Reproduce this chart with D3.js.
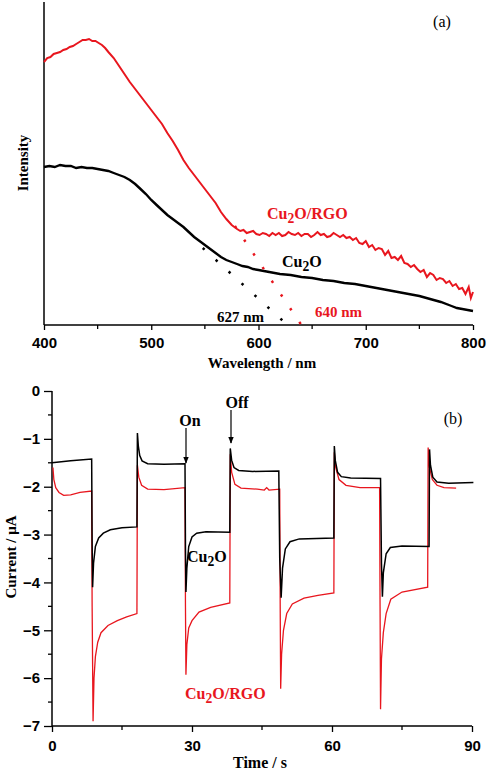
<!DOCTYPE html>
<html><head><meta charset="utf-8">
<script src="https://cdn.jsdelivr.net/npm/d3@7"></script>
<style>
body{margin:0;background:#fff;}
svg{display:block;}
.tick text{font-family:"Liberation Sans",Arial,sans-serif;font-weight:bold;font-size:15px;fill:#000;}
.lab{font-family:"Liberation Serif","Times New Roman",serif;font-weight:bold;}
</style></head>
<body>
<script>
// ---------- Panel (a): spectra ----------
const wlTicks = [400, 500, 600, 700, 800];
// wavelength (nm), intensity (a.u.)
const redWl = [400,403,406,409,412,415,418,421,424,427,430,433,436,439,442,445,448,451,454,457,460,465,470,475,480,485,490,495,500,505,510,515,520,525,530,535,540,545,550,555,560,565,570,575,
  580,583,586,589,592,595,598,601,604,607,610,613,616,619,622,625,628,631,634,637,640,643,646,649,652,655,658,661,664,667,670,673,676,679,682,685,
  688,691,694,697,700,703,706,709,712,715,718,721,724,727,730,733,736,739,742,745,748,751,754,757,760,763,766,769,772,775,778,781,784,787,790,793,796,798,800];
const redI = [263,267,268,271,272,273,275,276,278,279,281,283,285,285,286,284,284,282,280,277,273,267,259,251,243,236,229,222,215,208,201,192,184,175,165,157,150,143,136,129,122,113,106,100,
  96,94,95,92,93,94,91,90,92,91,89,92,90,92,89,90,93,91,90,92,89,91,91,88,90,93,90,91,88,89,92,90,88,90,87,88,
  85,87,82,81,84,78,80,75,77,76,70,74,67,68,65,69,62,61,58,60,56,53,55,48,52,50,45,47,46,42,44,39,41,36,37,31,38,27,33];
const blackWl = [400,405,410,415,420,425,430,435,440,445,450,455,460,465,470,475,480,485,490,495,500,505,510,515,520,525,530,535,540,545,550,555,560,565,570,575,580,585,590,595,600,610,620,630,640,650,660,670,680,690,700,710,720,730,740,750,760,770,780,785,790,795,800];
const blackI = [158,159,158,160,159,159,157,158,157,157,156,155,154,152,150,148,145,141,136,131,125,120,115,110,106,102,98,93,88,84,80,76,72,68,65,63,61,59,58,56,55,53,51,50,48,47,45,44,42,41,39,37,35,33,31,29,26,23,19,17,16,15,14];
// tangent (onset) lines: [wavelength, intensity]
const tanBlack = [[548, 77], [627, 0]];
const tanRed = [[578, 99], [640, 0]];

// ---------- Panel (b): photocurrent response ----------
const timeTicks = [0, 30, 60, 90];
const currentTicks = [0, -1, -2, -3, -4, -5, -6, -7];
const blackT = [0,4,8.5,8.6,8.7,8.9,9.3,10,11,12.5,15,18.2,18.3,18.5,18.8,19.3,20.5,24,28.5,28.6,28.7,28.9,29.3,30,31,33,38.1,38.2,38.5,39,40,43,48.6,48.8,49.1,49.4,50,51,53,60.4,60.5,60.7,61.2,62,64,70.4,70.6,70.8,71,71.6,72.5,75,80.8,80.9,81.1,81.6,82.5,85,90.3];
const blackC = [-1.50,-1.46,-1.42,-3.2,-4.10,-3.6,-3.25,-3.07,-2.97,-2.90,-2.86,-2.84,-0.88,-1.15,-1.35,-1.46,-1.52,-1.53,-1.52,-3.3,-4.20,-3.7,-3.25,-3.05,-2.97,-2.94,-2.95,-1.20,-1.45,-1.60,-1.66,-1.68,-1.67,-3.5,-4.32,-3.7,-3.30,-3.15,-3.09,-3.07,-1.15,-1.45,-1.70,-1.79,-1.82,-1.83,-3.6,-4.30,-3.8,-3.4,-3.27,-3.24,-3.25,-1.22,-1.55,-1.80,-1.90,-1.93,-1.91];
const redT = [0.2,0.4,0.8,1.5,2.5,4,6,8.5,8.6,8.8,9.0,9.3,9.8,10.5,12,14,16,18.2,18.3,18.6,19.2,20.5,24,28.5,28.6,28.7,28.9,29.3,30,31.5,34,38.1,38.2,38.5,39.2,40.5,44,45.5,46,46.5,48.8,48.9,49.0,49.2,49.6,50.3,51.5,54,57,60.4,60.5,60.8,61.5,63,66,70.2,70.3,70.4,70.6,71.0,71.6,72.6,75,80.5,80.6,80.9,81.5,82.5,84,86.6];
const redC = [-1.60,-1.85,-2.02,-2.12,-2.18,-2.17,-2.12,-2.09,-4.5,-6.90,-6.0,-5.55,-5.25,-5.05,-4.90,-4.80,-4.72,-4.65,-1.55,-1.80,-1.97,-2.05,-2.06,-2.02,-4.5,-5.93,-5.3,-4.95,-4.80,-4.62,-4.52,-4.43,-1.32,-1.70,-1.95,-2.03,-2.05,-2.07,-2.02,-2.07,-2.05,-4.5,-6.22,-5.5,-5.0,-4.65,-4.45,-4.33,-4.27,-4.22,-1.28,-1.60,-1.85,-1.97,-2.02,-2.02,-4.5,-6.65,-5.6,-5.05,-4.65,-4.35,-4.20,-4.10,-1.18,-1.60,-1.85,-1.97,-2.02,-2.03];

const RED = "#e8161e";
const W = 488, H = 773;
const svg = d3.select("body").append("svg").attr("width", W).attr("height", H);

// ===== Panel (a) =====
const xa = d3.scaleLinear().domain([400, 800]).range([44, 473]);
const ya = d3.scaleLinear().domain([0, 320]).range([325, 5]);
const ga = svg.append("g");
const xAxisA = d3.axisBottom(xa).tickValues(wlTicks).tickSize(5).tickPadding(5).tickFormat(d3.format("d"));
const gxa = ga.append("g").attr("transform", "translate(0,325)").call(xAxisA);
gxa.select(".domain").attr("stroke", "#000").attr("stroke-width", 1.5).attr("d", "M44,0H473");
gxa.selectAll(".tick line").attr("stroke-width", 1.3);
gxa.selectAll(".tick text").attr("dy", "0.85em");
ga.append("g").selectAll("line").data([450, 550, 650, 750]).join("line")
  .attr("x1", d => xa(d)).attr("x2", d => xa(d)).attr("y1", 325).attr("y2", 329)
  .attr("stroke", "#000").attr("stroke-width", 1.3);
ga.append("line").attr("x1", 44).attr("x2", 44).attr("y1", 2).attr("y2", 325).attr("stroke", "#000").attr("stroke-width", 1.5);

const lineA = d3.line().x(d => xa(d[0])).y(d => ya(d[1]));
ga.append("path").datum(d3.zip(redWl, redI)).attr("d", lineA).attr("fill", "none").attr("stroke", RED).attr("stroke-width", 2);
ga.append("path").datum(d3.zip(blackWl, blackI)).attr("d", lineA).attr("fill", "none").attr("stroke", "#000").attr("stroke-width", 2.4);
ga.append("path").datum(tanBlack).attr("d", lineA).attr("fill", "none").attr("stroke", "#000").attr("stroke-width", 2.5).attr("stroke-dasharray", "2.5,15");
ga.append("path").datum(tanRed).attr("d", lineA).attr("fill", "none").attr("stroke", RED).attr("stroke-width", 2.5).attr("stroke-dasharray", "2.5,14");

function chemLabel(g, x, y, parts, color, size) {
  const t = g.append("text").attr("class", "lab").attr("x", x).attr("y", y).attr("fill", color).attr("font-size", size);
  t.append("tspan").text(parts[0]);
  t.append("tspan").attr("dy", 4).attr("font-size", size * 0.85).text("2");
  t.append("tspan").attr("dy", -4).text(parts[1]);
  return t;
}
chemLabel(ga, 267, 219, ["Cu", "O/RGO"], RED, 16);
chemLabel(ga, 282, 267, ["Cu", "O"], "#000", 16);
ga.append("text").attr("class", "lab").attr("x", 217).attr("y", 322).attr("font-size", 15).attr("fill", "#000").text("627 nm");
ga.append("text").attr("class", "lab").attr("x", 315).attr("y", 317).attr("font-size", 15).attr("fill", RED).text("640 nm");
ga.append("text").attr("x", 442).attr("y", 27).attr("text-anchor", "middle").attr("font-family", "Liberation Serif, serif").attr("font-size", 16).text("(a)");
ga.append("text").attr("class", "lab").attr("x", 262).attr("y", 368).attr("text-anchor", "middle").attr("font-size", 15).text("Wavelength / nm");
ga.append("text").attr("class", "lab").attr("transform", "translate(28,163) rotate(-90)").attr("text-anchor", "middle").attr("font-size", 15).text("Intensity");

// ===== Panel (b) =====
const xb = d3.scaleLinear().domain([0, 90]).range([52, 472]);
const yb = d3.scaleLinear().domain([-7, 0]).range([726, 391]);
const gb = svg.append("g");
const gxb = gb.append("g").attr("transform", "translate(0,726)")
  .call(d3.axisBottom(xb).tickValues(timeTicks).tickSize(6).tickPadding(6).tickFormat(d3.format("d")));
gxb.select(".domain").attr("stroke-width", 1.5).attr("d", "M52,0H472");
gxb.selectAll(".tick line").attr("stroke-width", 1.3);
gxb.selectAll(".tick text").attr("dy", "0.85em");
gb.append("g").selectAll("line").data([15, 45, 75]).join("line")
  .attr("x1", d => xb(d)).attr("x2", d => xb(d)).attr("y1", 726).attr("y2", 730)
  .attr("stroke", "#000").attr("stroke-width", 1.3);
const gyb = gb.append("g").attr("transform", "translate(52,0)")
  .call(d3.axisLeft(yb).tickValues(currentTicks).tickSize(8).tickPadding(4).tickFormat(d3.format("d")));
gyb.select(".domain").attr("stroke-width", 1.5).attr("d", "M0,391V726");
gyb.selectAll(".tick line").attr("stroke-width", 1.3);
gb.append("g").selectAll("line").data([-0.5, -1.5, -2.5, -3.5, -4.5, -5.5, -6.5]).join("line")
  .attr("x1", 48).attr("x2", 52).attr("y1", d => yb(d)).attr("y2", d => yb(d))
  .attr("stroke", "#000").attr("stroke-width", 1.3);

const lineB = d3.line().x(d => xb(d[0])).y(d => yb(d[1]));
gb.append("path").datum(d3.zip(redT, redC)).attr("d", lineB).attr("fill", "none").attr("stroke", RED).attr("stroke-width", 1.3);
gb.append("path").datum(d3.zip(blackT, blackC)).attr("d", lineB).attr("fill", "none").attr("stroke", "#000").attr("stroke-width", 1.5);

const arrows = [{t: "On", x: 186, y0: 428, y1: 463, lx: 190, ly: 426}, {t: "Off", x: 231, y0: 410, y1: 443, lx: 237, ly: 408}];
svg.append("defs").append("marker").attr("id", "ah").attr("viewBox", "0 0 10 10").attr("refX", 9).attr("refY", 5)
  .attr("markerWidth", 6).attr("markerHeight", 7).attr("orient", "auto")
  .append("path").attr("d", "M0,1L10,5L0,9Z").attr("fill", "#000");
arrows.forEach(a => {
  gb.append("line").attr("x1", a.x).attr("x2", a.x).attr("y1", a.y0).attr("y2", a.y1).attr("stroke", "#000").attr("stroke-width", 1.2).attr("marker-end", "url(#ah)");
  gb.append("text").attr("class", "lab").attr("x", a.lx).attr("y", a.ly).attr("text-anchor", "middle").attr("font-size", 16).text(a.t);
});
chemLabel(gb, 187, 562, ["Cu", "O"], "#000", 16);
chemLabel(gb, 185, 699, ["Cu", "O/RGO"], RED, 16);
gb.append("text").attr("x", 453).attr("y", 424).attr("text-anchor", "middle").attr("font-family", "Liberation Serif, serif").attr("font-size", 16).text("(b)");
gb.append("text").attr("class", "lab").attr("x", 260).attr("y", 768).attr("text-anchor", "middle").attr("font-size", 16).text("Time / s");
gb.append("text").attr("class", "lab").attr("transform", "translate(16,557) rotate(-90)").attr("text-anchor", "middle").attr("font-size", 15).text("Current / μA");
</script>
</body></html>
